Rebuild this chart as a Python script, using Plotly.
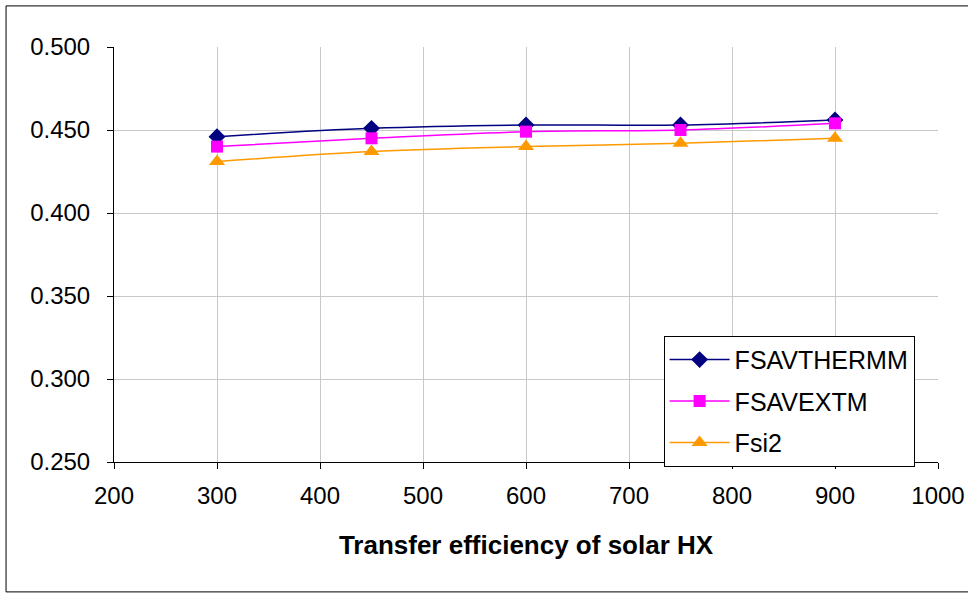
import plotly.graph_objects as go

x_vals = [300, 450, 600, 750, 900]
fsavthermm = [0.446, 0.451, 0.453, 0.453, 0.456]
fsavextm = [0.440, 0.445, 0.449, 0.450, 0.454]
fsi2 = [0.431, 0.437, 0.440, 0.442, 0.445]

fig = go.Figure()
fig.add_trace(go.Scatter(x=x_vals, y=fsavthermm, name="FSAVTHERMM", mode="lines+markers",
                         legendgroup="a",
                         line=dict(color="#000080", width=1.5, shape="spline"),
                         marker=dict(symbol="diamond", size=13, color="#000080")))
fig.add_trace(go.Scatter(x=x_vals, y=fsavextm, name="FSAVEXTM", mode="lines+markers",
                         legendgroup="b",
                         line=dict(color="#FF00FF", width=1.5, shape="spline"),
                         marker=dict(symbol="square", size=12, color="#FF00FF")))
fig.add_trace(go.Scatter(x=x_vals, y=fsi2, name="Fsi2", mode="lines+markers",
                         legendgroup="c",
                         line=dict(color="#FF9900", width=1.5, shape="spline"),
                         marker=dict(symbol="triangle-up", size=14, color="#FF9900")))

fig.update_layout(
    width=968, height=594,
    margin=dict(l=114, r=30, t=47, b=132, autoexpand=False),
    paper_bgcolor="white", plot_bgcolor="white",
    font=dict(family="Liberation Sans, Arial, sans-serif", size=24, color="black"),
    showlegend=True,
    legend=dict(x=0.667, y=0.304, xanchor="left", yanchor="top",
                bgcolor="white", bordercolor="black", borderwidth=1,
                font=dict(size=25), itemwidth=60, tracegroupgap=6),
    shapes=[dict(type="rect", xref="paper", yref="paper", x0=-0.131, x1=1.05, y0=-0.313, y1=1.099,
                 line=dict(color="black", width=1), layer="below")],
)
fig.update_xaxes(range=[200, 1000], dtick=100, tick0=200, automargin=False,
                 ticklabeloverflow="allow",
                 title=dict(text="<b>Transfer efficiency of solar HX</b>", standoff=28,
                            font=dict(size=26)),
                 tickfont=dict(size=24), ticklabelstandoff=6,
                 showgrid=True, gridcolor="#C8C8C8", gridwidth=1,
                 showline=True, linecolor="black", linewidth=1,
                 ticks="outside", ticklen=6, tickcolor="black", zeroline=False)
fig.update_yaxes(range=[0.25, 0.5], dtick=0.05, tick0=0.25, tickformat=".3f", automargin=False,
                 tickfont=dict(size=24), ticklabelstandoff=12,
                 showgrid=True, gridcolor="#C8C8C8", gridwidth=1,
                 showline=True, linecolor="black", linewidth=1,
                 ticks="outside", ticklen=6, tickcolor="black", zeroline=False)

fig.write_html("out.html", config={"displayModeBar": False, "responsive": False},
               post_script="document.body.style.margin='0';document.body.style.overflow='hidden';")
